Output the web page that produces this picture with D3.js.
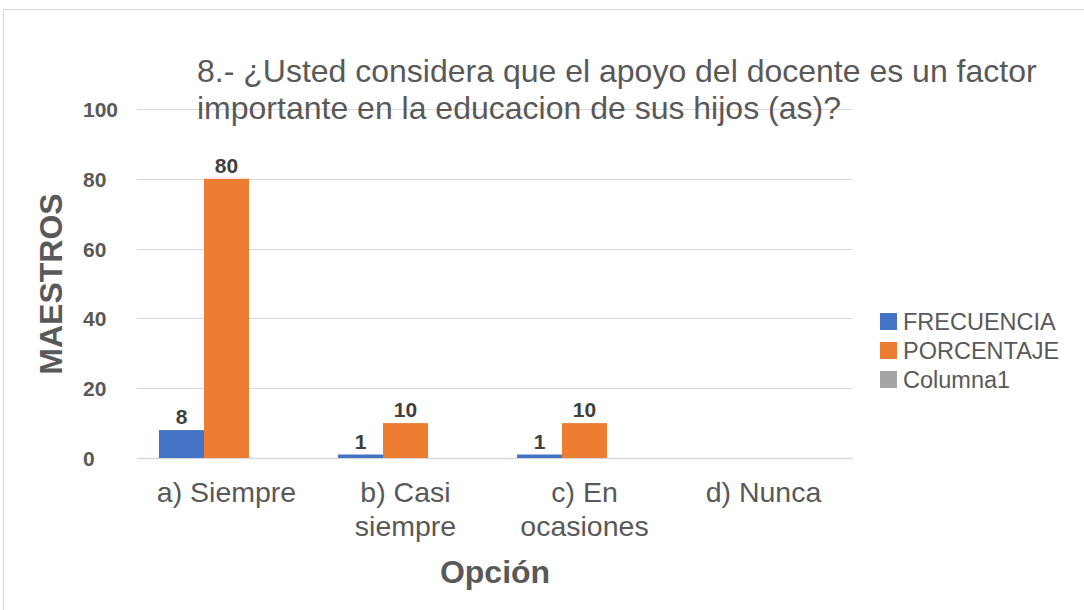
<!DOCTYPE html>
<html>
<head>
<meta charset="utf-8">
<script src="https://cdn.jsdelivr.net/npm/d3@7"></script>
<style>
  body { margin: 0; background: #fff; }
  svg { display: block; }
</style>
</head>
<body>
<div id="chart"></div>
<script>
// Chart data
const categories = ["a) Siempre", "b) Casi siempre", "c) En ocasiones", "d) Nunca"];
const categoryLines = [["a) Siempre"], ["b) Casi", "siempre"], ["c) En", "ocasiones"], ["d) Nunca"]];
const seriesNames = ["FRECUENCIA", "PORCENTAJE", "Columna1"];
const frecuencia = [8, 1, 1, null];
const porcentaje = [80, 10, 10, null];
const columna1 = [null, null, null, null];
const yTicks = [0, 20, 40, 60, 80, 100];
const titleLines = ["8.- ¿Usted considera que el apoyo del docente es un factor",
  "importante en la educacion de sus hijos (as)?"];

const colors = ["#4472c4", "#ed7d31", "#a5a5a5"];
const seriesValues = [frecuencia, porcentaje, columna1];

const width = 1084, height = 610;
const plot = { left: 137, right: 853, top: 109, bottom: 458 };
const font = "'Liberation Sans', Arial, sans-serif";

const svg = d3.select("#chart").append("svg")
  .attr("width", width).attr("height", height);

// outer frame
svg.append("rect")
  .attr("x", 3.5).attr("y", 9.5)
  .attr("width", width).attr("height", height)
  .attr("fill", "none").attr("stroke", "#d9d9d9");

const x = d3.scaleBand().domain(categories).range([plot.left, plot.right]).paddingInner(0).paddingOuter(0);
const inner = d3.scaleBand().domain(seriesNames).range([22, x.bandwidth() - 22]).padding(0);
const y = d3.scaleLinear().domain([0, 100]).range([plot.bottom, plot.top]);

// gridlines
svg.append("g").selectAll("line").data(yTicks).join("line")
  .attr("x1", plot.left).attr("x2", plot.right)
  .attr("y1", d => Math.round(y(d)) + 0.5).attr("y2", d => Math.round(y(d)) + 0.5)
  .attr("stroke", "#d9d9d9").attr("stroke-width", d => d === 0 ? 1.5 : 1);

// y tick labels
svg.append("g").selectAll("text").data(yTicks).join("text")
  .attr("x", 83).attr("y", d => y(d) + 8)
  .attr("font-family", font)
  .attr("font-weight", "bold").attr("font-size", 21)
  .attr("fill", "#595959")
  .text(d => d);

// title
svg.append("g").selectAll("text").data(titleLines).join("text")
  .attr("x", 197).attr("y", (d, i) => 82 + i * 37)
  .attr("font-family", font)
  .attr("font-size", 32).attr("fill", "#595959")
  .text(d => d);

// bars
const groups = svg.append("g").selectAll("g").data(seriesNames).join("g")
  .attr("fill", (d, i) => colors[i]);

const rows = (s, si) => categories.map((c, ci) => ({ s, c, v: seriesValues[si][ci] })).filter(d => d.v != null);

groups.selectAll("rect").data(rows).join("rect")
  .attr("x", d => x(d.c) + inner(d.s))
  .attr("width", inner.bandwidth())
  .attr("y", d => y(d.v))
  .attr("height", d => y(0) - y(d.v));

// data labels
groups.selectAll("text").data(rows).join("text")
  .attr("x", d => x(d.c) + inner(d.s) + inner.bandwidth() / 2)
  .attr("y", d => y(d.v) - 6)
  .attr("text-anchor", "middle")
  .attr("font-family", font)
  .attr("font-weight", "bold").attr("font-size", 21)
  .attr("fill", "#404040")
  .text(d => d.v);

// category labels
const catG = svg.append("g").selectAll("text").data(categories).join("text")
  .attr("x", d => x(d) + x.bandwidth() / 2)
  .attr("y", 502)
  .attr("text-anchor", "middle")
  .attr("font-family", font)
  .attr("font-size", 28.5).attr("fill", "#595959");
catG.selectAll("tspan").data((d, i) => categoryLines[i]).join("tspan")
  .attr("x", function() { return d3.select(this.parentNode).attr("x"); })
  .attr("dy", (d, i) => i === 0 ? 0 : 34)
  .text(d => d);

// axis titles
svg.append("text")
  .attr("x", (plot.left + plot.right) / 2).attr("y", 583)
  .attr("text-anchor", "middle")
  .attr("font-family", font)
  .attr("font-weight", "bold").attr("font-size", 32)
  .attr("fill", "#595959")
  .text("Opción");

svg.append("text")
  .attr("transform", "translate(62, 284) rotate(-90)")
  .attr("text-anchor", "middle")
  .attr("font-family", font)
  .attr("font-weight", "bold").attr("font-size", 32)
  .attr("fill", "#595959")
  .text("MAESTROS");

// legend
const legend = svg.append("g").selectAll("g").data(seriesNames).join("g")
  .attr("transform", (d, i) => `translate(880, ${313 + i * 29})`);
legend.append("rect").attr("width", 17).attr("height", 17)
  .attr("fill", (d, i) => colors[i]);
legend.append("text").attr("x", 23).attr("y", 16.5)
  .attr("font-family", font)
  .attr("font-size", 23.5).attr("fill", "#595959")
  .text(d => d);
</script>
</body>
</html>
